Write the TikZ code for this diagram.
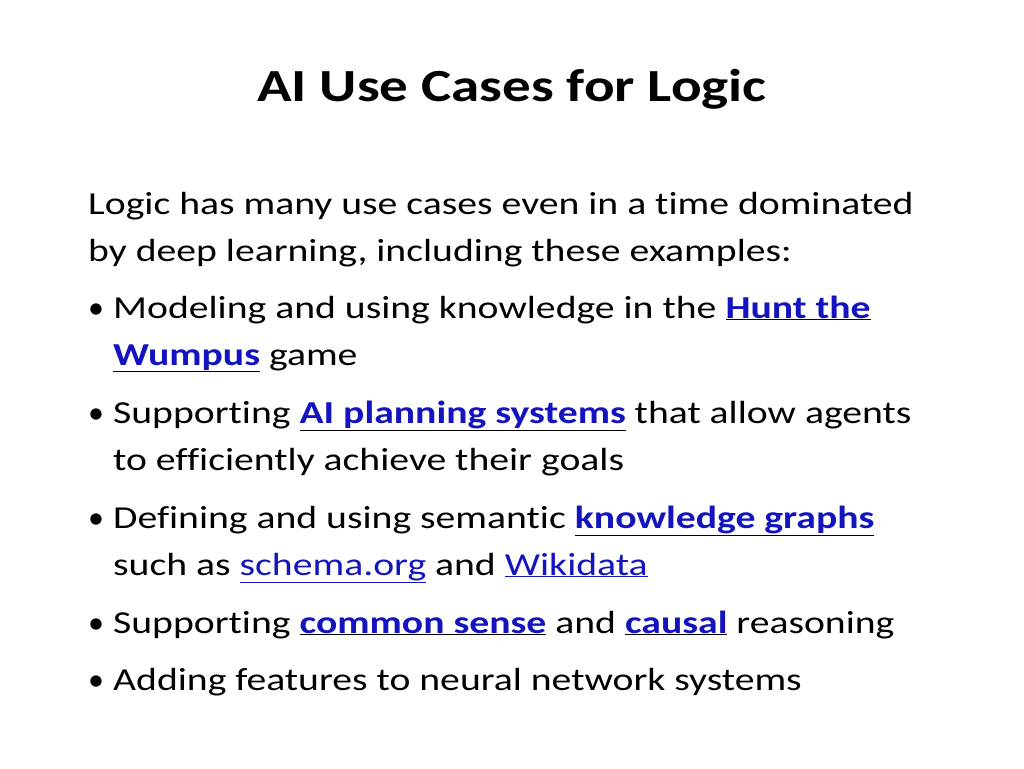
\documentclass[tikz,border=0pt]{standalone}
\usepackage{fontspec}
\setmainfont{Carlito}[Ligatures=NoCommon]
\usetikzlibrary{positioning}
\definecolor{linkblue}{RGB}{20,20,190}
\newcommand{\lnk}[1]{\underline{\textcolor{linkblue}{\textbf{#1}}}}
\newcommand{\plink}[1]{\textcolor{linkblue}{\underline{#1}}}
\newcommand{\wide}[1]{\scalebox{1.24}[1]{#1}}

\begin{document}
\begin{tikzpicture}[
    x=1pt, y=-1pt,
    line/.style={anchor=base west, inner sep=0, font=\fontsize{32}{38}\selectfont},
    dot/.style={anchor=base west, inner sep=0, font=\fontsize{32}{38}\selectfont}]
\useasboundingbox (0,0) rectangle (1024,768);
\node[anchor=base, inner sep=0, font=\fontsize{46}{54}\selectfont\bfseries] (title) at (512,101) {\wide{AI Use Cases for Logic}};

\node[line] (intro1) at (88,214) {\wide{Logic has many use cases even in a time dominated}};
\node[line] (intro2) at (88,261) {\wide{by deep learning, including these examples:}};

% bullets
\foreach \y in {318,423,528,633,690}
  \node[dot] at (88,\y) {\textbullet};

\node[line] (b1a) at (113,318) {\wide{Modeling and using knowledge in the \lnk{Hunt the}}};
\node[line] (b1b) at (113,365) {\wide{\lnk{Wumpus} game}};
\node[line] (b2a) at (113,423) {\wide{Supporting \lnk{AI planning systems} that allow agents}};
\node[line] (b2b) at (113,470) {\wide{to efficiently achieve their goals}};
\node[line] (b3a) at (113,528) {\wide{Defining and using semantic \lnk{knowledge graphs}}};
\node[line] (b3b) at (113,575) {\wide{such as \plink{schema.org} and \plink{Wikidata}}};
\node[line] (b4) at (113,633) {\wide{Supporting \lnk{common sense} and \lnk{causal} reasoning}};
\node[line] (b5) at (113,690) {\wide{Adding features to neural network systems}};
\end{tikzpicture}
\end{document}
